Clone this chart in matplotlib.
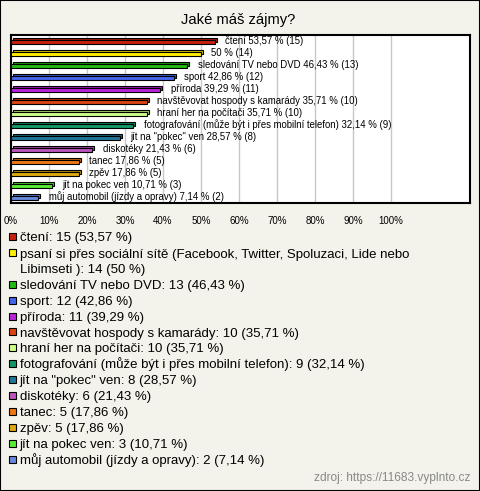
import matplotlib
matplotlib.use("Agg")
import matplotlib.pyplot as plt
import matplotlib.colors as mc
import matplotlib.transforms as mtransforms
from matplotlib.patches import Rectangle

plt.rcParams.update({"font.family": ["Liberation Sans", "DejaVu Sans"]})

# poll data
bar_names = ["čtení", "", "sledování TV nebo DVD", "sport", "příroda",
             "navštěvovat hospody s kamarády", "hraní her na počítači",
             "fotografování (může být i přes mobilní telefon)", 'jít na "pokec" ven',
             "diskotéky", "tanec", "zpěv", "jít na pokec ven",
             "můj automobil (jízdy a opravy)"]
legend_names = ["čtení",
                "psaní si přes sociální sítě (Facebook, Twitter, Spoluzaci, Lide nebo\nLibimseti )",
                "sledování TV nebo DVD", "sport", "příroda",
                "navštěvovat hospody s kamarády", "hraní her na počítači",
                "fotografování (může být i přes mobilní telefon)", 'jít na "pokec" ven',
                "diskotéky", "tanec", "zpěv", "jít na pokec ven",
                "můj automobil (jízdy a opravy)"]
counts = [15, 14, 13, 12, 11, 10, 10, 9, 8, 6, 5, 5, 3, 2]
pcts = [53.57, 50, 46.43, 42.86, 39.29, 35.71, 35.71, 32.14, 28.57, 21.43, 17.86, 17.86, 10.71, 7.14]
colors = ["#c8200e", "#ffee00", "#22bb11", "#4466ee", "#bb22dd", "#dd4411", "#ccff88",
          "#119966", "#227799", "#bb55bb", "#ee7711", "#ddaa11", "#55ee33", "#6688dd"]
ticks = [0, 10, 20, 30, 40, 50, 60, 70, 80, 90, 100]

BG = "#f4f3eb"
W, H = 480, 491
LINE = 15.9   # legend line pitch, px


def fmt(v):
    s = f"{v:.2f}".rstrip("0").rstrip(".")
    return s.replace(".", ",")


def darker(c, f=0.8):
    r, g, b = mc.to_rgb(c)
    return (r * f, g * f, b * f)


fig = plt.figure(figsize=(W / 100, H / 100), dpi=100, facecolor=BG)
ax = fig.add_axes([11 / W, 1 - 203 / H, 459 / W, 168 / H])
ax.set_facecolor("white")
ax.set_xlim(0, 459 / 3.8)
ax.set_ylim(len(pcts) - 0.5, -0.5)

rows = list(range(len(pcts)))
back = mtransforms.offset_copy(ax.transData, fig=fig, x=2, y=2, units="dots")
for i in rows:
    ax.barh(i + 0.1, pcts[i], height=0.36, color=darker(colors[i]), edgecolor="black",
            lw=0.8, transform=back, zorder=3)
    ax.barh(i + 0.1, pcts[i], height=0.36, color=colors[i], edgecolor="black",
            lw=0.8, zorder=4)
    lab = (bar_names[i] + " " if bar_names[i] else "") + f"{fmt(pcts[i])} % ({counts[i]})"
    ax.annotate(lab, (pcts[i], i), xytext=(7.5, 0), textcoords="offset points",
                va="center", ha="left", fontsize=6.9, zorder=5)

ax.set_xticks(ticks)
ax.set_xticklabels([f"{t}%" for t in ticks], fontsize=7)
ax.tick_params(axis="x", length=0, pad=9)
ax.set_yticks([])
ax.grid(axis="x", color="#c8c8c8", lw=1, zorder=0)
ax.set_axisbelow(True)
for s in ax.spines.values():
    s.set_linewidth(1.5)
    s.set_color("black")

fig.text(238 / W, 1 - 20 / H, "Jaké máš zájmy?", ha="center", va="center", fontsize=10.6)

# legend
line = 0
for i in rows:
    yc = 236.5 + LINE * line
    fig.patches.append(Rectangle((9 / W, 1 - (yc + 3.5) / H), 7 / W, 7 / H,
                                 transform=fig.transFigure, facecolor=colors[i],
                                 edgecolor="black", lw=0.8))
    txt = f"{legend_names[i]}: {counts[i]} ({fmt(pcts[i])} %)"
    n = txt.count("\n") + 1
    # baseline alignment uses the last line of a multi-line text
    fig.text(19.5 / W, 1 - (yc + LINE * (n - 1) + 4.6) / H, txt, ha="left",
             va="baseline", fontsize=9.5, linespacing=1.27)
    line += n

fig.text(470 / W, 1 - 478 / H, "zdroj: https://11683.vyplnto.cz", ha="right",
         va="center", fontsize=8.6, color="#888888")

fig.patches.append(Rectangle((0, 0), 1, 1, transform=fig.transFigure, fill=False,
                             edgecolor="black", lw=1.5))
fig.savefig("out.png", dpi=100, facecolor=BG)
